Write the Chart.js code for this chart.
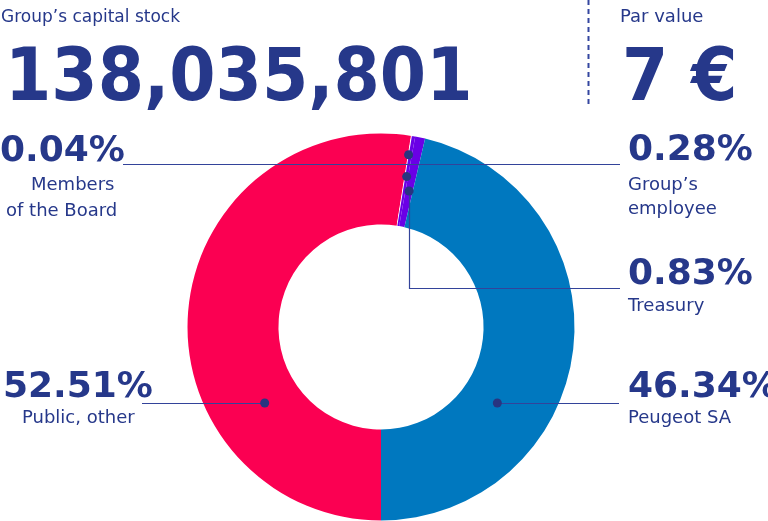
<!DOCTYPE html>
<html>
<head>
<meta charset="utf-8">
<script src="https://cdn.jsdelivr.net/npm/chart.js@4.4.1/dist/chart.umd.min.js"></script>
<style>
body { margin: 0; background: #fff; }
#wrap { position: relative; width: 768px; height: 521px; overflow: hidden; font-family: "DejaVu Sans", Verdana, sans-serif; color: #26388a; }
#wrap canvas { position: absolute; left: 0; top: 0; }
.t { position: absolute; white-space: nowrap; line-height: 1; transform-origin: 0 0; }
</style>
</head>
<body>
<div id="wrap"><canvas id="shareholders" width="768" height="521"></canvas></div>
<script>
// shareholding data
var holders = ['Public, other', 'Members of the Board', 'Group’s employee', 'Treasury', 'Peugeot SA'];
var captions = [['Public, other'], ['Members', 'of the Board'], ['Group’s', 'employee'], ['Treasury'], ['Peugeot SA']];
var shares = [52.51, 0.04, 0.28, 0.83, 46.34];
var sliceColors = ['#fb0052', '#ffffff', '#6a00e6', '#6a00e6', '#0078bf'];
var capitalTitle = 'Group’s capital stock';
var capitalStock = '138,035,801';
var parTitle = 'Par value';
var parValue = '7 €';

// where each callout sits (pct label, caption lines, leader line)
var callouts = [
	{ px: 3, py: 397, cap: [[22, 423]], lineY: 403, lineTo: 142, ring: 0.4 },
	{ px: 0, py: 161, cap: [[31, 190], [6, 216]], lineY: 164, lineTo: 123, ring: 0.79, onArc: true },
	{ px: 628, py: 160, cap: [[628, 190], [628, 214]], lineY: 164, lineTo: 620, ring: 0.55, onArc: true },
	{ px: 628, py: 284, cap: [[628, 311]], lineY: 288, lineTo: 620, ring: 0.4, onArc: true, elbow: true },
	{ px: 628, py: 397, cap: [[628, 423]], lineY: 403, lineTo: 619, ring: 0.4 }
];

var wrap = document.getElementById('wrap');

function addText(text, x, baseline, size, bold, scaleX) {
	var d = document.createElement('div');
	d.className = 't';
	d.textContent = text;
	d.style.left = x + 'px';
	d.style.top = (baseline - 0.846 * size) + 'px';
	d.style.fontSize = size + 'px';
	d.style.fontWeight = bold ? 'bold' : 'normal';
	if (scaleX) d.style.transform = 'scaleX(' + scaleX + ')';
	wrap.appendChild(d);
}

addText(capitalTitle, 1, 22, 17, false);
addText(capitalStock, 5, 100, 73, true, 0.912);
addText(parTitle, 620, 22, 18, false);
addText(parValue, 622, 100, 73, true, 0.91);

shares.forEach(function(v, i) {
	var c = callouts[i];
	addText(v.toFixed(2) + '%', c.px, c.py, 36, true);
	captions[i].forEach(function(line, j) {
		addText(line, c.cap[j][0], c.cap[j][1], 18, false);
	});
});

var calloutPlugin = {
	id: 'callouts',
	afterDatasetsDraw: function(chart) {
		var ctx = chart.ctx;
		var arcs = chart.getDatasetMeta(0).data;
		ctx.save();

		// dashed divider between stock and par value
		ctx.strokeStyle = '#3446a0';
		ctx.lineWidth = 2;
		ctx.setLineDash([5, 4]);
		ctx.beginPath();
		ctx.moveTo(588.5, 0);
		ctx.lineTo(588.5, 108);
		ctx.stroke();
		ctx.setLineDash([]);

		var dots = [];
		arcs.forEach(function(arc, i) {
			var c = callouts[i];
			var p = arc.getProps(['x', 'y', 'startAngle', 'endAngle', 'innerRadius', 'outerRadius'], true);
			var r = p.innerRadius + c.ring * (p.outerRadius - p.innerRadius);
			var mid = (p.startAngle + p.endAngle) / 2;
			var dx, dy;
			if (c.onArc) {
				dx = p.x + r * Math.cos(mid);
				dy = p.y + r * Math.sin(mid);
			} else {
				var h = c.lineY - p.y;
				var side = Math.cos(mid) < 0 ? -1 : 1;
				dx = p.x + side * Math.sqrt(r * r - h * h);
				dy = c.lineY;
			}
			ctx.strokeStyle = '#33439a';
			ctx.lineWidth = 1.2;
			ctx.beginPath();
			if (c.elbow) {
				ctx.moveTo(Math.round(dx) + 0.5, dy);
				ctx.lineTo(Math.round(dx) + 0.5, c.lineY + 0.5);
				ctx.lineTo(c.lineTo, c.lineY + 0.5);
			} else if (c.onArc) {
				ctx.moveTo(c.lineTo, c.lineY + 0.5);
				ctx.lineTo(dx, c.lineY + 0.5);
			} else {
				ctx.moveTo(c.lineTo, dy + 0.5);
				ctx.lineTo(dx, dy + 0.5);
			}
			ctx.stroke();
			dots.push([dx, dy]);
		});

		ctx.fillStyle = '#283580';
		dots.forEach(function(d) {
			ctx.beginPath();
			ctx.arc(d[0], d[1], 4.5, 0, Math.PI * 2);
			ctx.fill();
		});
		ctx.restore();
	}
};

var shareChart = new Chart(document.getElementById('shareholders').getContext('2d'), {
	type: 'doughnut',
	data: {
		labels: holders,
		datasets: [{
			data: shares,
			backgroundColor: sliceColors,
			borderColor: '#ffffff',
			borderWidth: [0, 1, 0, 0, 0]
		}]
	},
	options: {
		responsive: false,
		animation: false,
		rotation: 180,
		cutout: '53%',
		layout: { padding: { left: 187, right: 193, top: 133, bottom: 0 } },
		plugins: {
			legend: { display: false },
			tooltip: { enabled: false }
		}
	},
	plugins: [calloutPlugin]
});
</script>
</body>
</html>
